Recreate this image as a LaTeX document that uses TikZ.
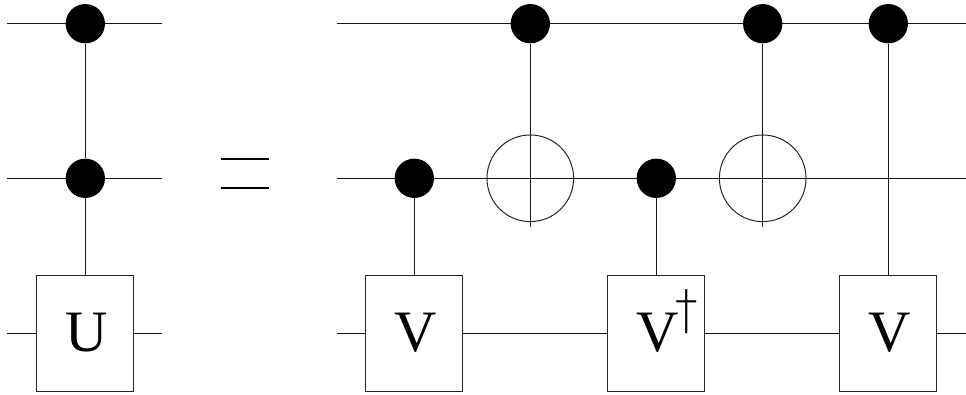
\documentclass[tikz,border=0pt]{standalone}
\usepackage{fontspec}
\setmainfont{Liberation Serif}
\newfontfamily\dagfont{DejaVu Sans ExtraLight}
\tikzset{
 wire/.style={line width=0.75pt,black!90},
 eqbar/.style={line width=1pt,black},
 ctrl/.style={circle,fill=black,draw=none,minimum size=29.5pt,inner sep=0pt},
 gate/.style={rectangle,draw=black!85,line width=0.75pt,fill=white,minimum width=72.5pt,minimum height=87pt,inner sep=0pt,text=black},
 xorc/.style={circle,draw=black!85,line width=0.75pt,minimum size=65pt,inner sep=0pt}
}
\newcommand{\gatefont}{\fontsize{44}{44}\selectfont}
\newcommand{\daggerup}{\smash{\rlap{\raisebox{17.5pt}{\kern-2.5pt\scalebox{0.84}[1]{\fontsize{40}{40}\dagfont †}}}}}
\begin{document}
\begin{tikzpicture}[x=0.75pt,y=-0.75pt]
\useasboundingbox (0,0) rectangle (966,395);
\coordinate (la) at (7,23.7); \coordinate (lb) at (162,23.7);
\coordinate (lc) at (7,178.3); \coordinate (ld) at (162,178.3);
\coordinate (le) at (7,333); \coordinate (lf) at (162,333);
\coordinate (ra) at (337,23.7); \coordinate (rb) at (966,23.7);
\coordinate (rc) at (337,178.3); \coordinate (rd) at (966,178.3);
\coordinate (re) at (337,333); \coordinate (rf) at (966,333);
\draw[wire] (la)--(lb); \draw[wire] (lc)--(ld); \draw[wire] (le)--(lf);
\draw[wire] (ra)--(rb); \draw[wire] (rc)--(rd); \draw[wire] (re)--(rf);
% left circuit
\node[ctrl] (c1) at (85.3,23.7) {};
\node[ctrl] (c2) at (85.3,178.3) {};
\node[gate] (U) at (85.3,333) {\gatefont\kern2.5pt U};
\draw[wire] (c1)--(c2); \draw[wire] (c2)--(U);
% equals
\coordinate (e1) at (220.5,159); \coordinate (e2) at (269,159);
\coordinate (e3) at (220.5,188); \coordinate (e4) at (269,188);
\draw[eqbar] (e1)--(e2); \draw[eqbar] (e3)--(e4);
% right circuit
\node[ctrl] (d1) at (414.3,178.3) {};
\node[gate] (V1) at (414.3,333) {\gatefont\kern2.5pt V};
\draw[wire] (d1)--(V1);
\node[ctrl] (d2) at (530.3,23.7) {};
\node[xorc] (x1) at (530.3,178.3) {};
\coordinate (x1b) at (530.3,226.7);
\draw[wire] (d2)--(x1b);
\node[ctrl] (d3) at (656.3,178.3) {};
\node[gate] (V2) at (656.3,333) {\gatefont\kern2.5pt V\daggerup};
\draw[wire] (d3)--(V2);
\node[ctrl] (d4) at (762.7,23.7) {};
\node[xorc] (x2) at (762.7,178.3) {};
\coordinate (x2b) at (762.7,226.7);
\draw[wire] (d4)--(x2b);
\node[ctrl] (d5) at (888.3,23.7) {};
\node[gate] (V3) at (888.3,333) {\gatefont\kern2.5pt V};
\draw[wire] (d5)--(V3);
\end{tikzpicture}
\end{document}
